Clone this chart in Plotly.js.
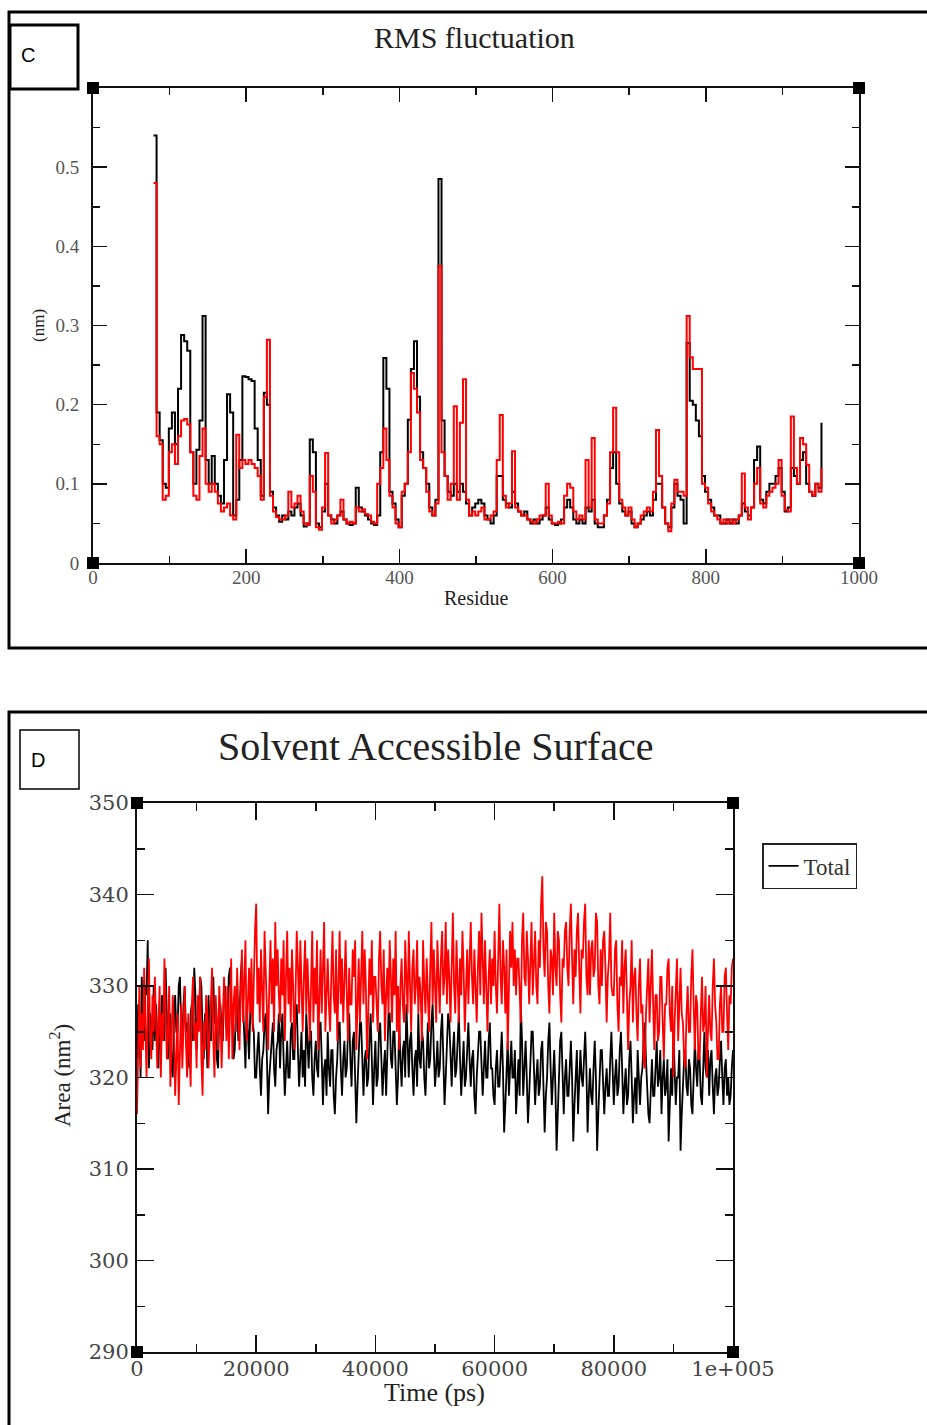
<!DOCTYPE html>
<html>
<head>
<meta charset="utf-8">
<script src="https://cdn.plot.ly/plotly-3.0.1.min.js"></script>
<style>
html,body{margin:0;padding:0;background:#fff;}
#chart{width:927px;height:1425px;}
</style>
</head>
<body>
<div id="chart"></div>
<script>
// ---------- Panel C: RMS fluctuation ----------
const residueStart = 79;
const residueStep = 4;
const rmsfBlack = [
.54,.19,.155,.10,.095,.17,.19,.15,.22,.288,
.28,.268,.14,.10,.143,.18,.312,.13,.10,.135,
.10,.085,.075,.13,.213,.19,.06,.08,.13,.236,
.235,.232,.23,.17,.13,.085,.215,.20,.09,.07,
.06,.052,.06,.055,.065,.06,.07,.075,.06,.046,
.05,.156,.14,.05,.045,.065,.10,.06,.055,.05,
.06,.065,.055,.05,.048,.05,.095,.07,.065,.06,
.055,.05,.048,.06,.14,.259,.22,.09,.075,.055,
.045,.085,.10,.181,.245,.28,.21,.14,.12,.10,
.07,.06,.08,.485,.18,.11,.09,.085,.10,.09,
.10,.09,.075,.06,.07,.075,.08,.075,.06,.055,
.05,.06,.11,.11,.08,.075,.07,.09,.075,.065,
.06,.065,.055,.05,.055,.05,.055,.06,.07,.055,
.05,.048,.05,.055,.07,.08,.07,.055,.05,.055,
.05,.07,.065,.08,.05,.045,.045,.06,.08,.12,
.14,.10,.075,.065,.06,.065,.05,.045,.05,.055,
.06,.065,.06,.08,.10,.10,.07,.05,.045,.07,
.10,.085,.08,.05,.278,.205,.20,.18,.16,.11,
.09,.08,.07,.06,.06,.05,.05,.055,.05,.055,
.05,.06,.075,.065,.06,.07,.13,.147,.08,.075,
.09,.10,.10,.11,.12,.09,.065,.07,.12,.11,
.10,.13,.14,.10,.09,.085,.10,.095,.177
];
const rmsfRed = [
.48,.16,.15,.08,.085,.14,.15,.125,.16,.18,
.182,.175,.14,.085,.08,.135,.17,.10,.09,.10,
.09,.075,.065,.07,.075,.06,.055,.162,.12,.13,
.125,.13,.125,.12,.11,.08,.21,.282,.085,.065,
.058,.055,.055,.06,.09,.07,.075,.085,.065,.05,
.048,.11,.09,.045,.042,.07,.139,.06,.05,.055,
.06,.08,.055,.05,.052,.05,.07,.065,.068,.062,
.06,.052,.05,.10,.12,.17,.13,.085,.07,.05,
.045,.09,.10,.14,.24,.22,.19,.13,.12,.09,
.065,.06,.075,.375,.14,.11,.08,.10,.198,.08,
.177,.232,.08,.06,.065,.06,.065,.07,.055,.055,
.06,.065,.13,.187,.085,.07,.075,.141,.07,.065,
.06,.06,.055,.052,.05,.055,.06,.06,.10,.06,
.05,.05,.052,.05,.085,.10,.095,.065,.055,.06,
.055,.13,.07,.158,.055,.05,.05,.06,.075,.14,
.196,.14,.08,.07,.06,.07,.055,.045,.05,.06,
.065,.07,.065,.09,.168,.11,.07,.05,.04,.075,
.105,.09,.09,.085,.312,.26,.245,.245,.245,.10,
.095,.075,.065,.06,.055,.05,.055,.05,.055,.05,
.055,.06,.113,.07,.055,.07,.10,.12,.075,.07,
.085,.09,.095,.10,.13,.085,.067,.065,.185,.12,
.10,.158,.15,.124,.09,.085,.10,.09,.12
];
const rmsfYTicks = [0, 0.1, 0.2, 0.3, 0.4, 0.5];
const rmsfYText = ['0', '0.1', '0.2', '0.3', '0.4', '0.5'];
const rmsfXTicks = [0, 200, 400, 600, 800, 1000];

// ---------- Panel D: Solvent Accessible Surface ----------
const timeStep = 200; // ps
const sasaRed = [
316,324,330,321,327,323,332,326,320,328, 333,324,322,329,325,331,327,321,326,330,
320,327,324,333,328,322,325,330,319,323, 329,326,318,322,327,317,324,328,321,325,
330,324,320,327,323,319,328,331,324,326, 321,329,325,331,322,318,326,323,329,327,
321,325,328,332,324,320,329,326,323,330, 327,321,325,331,328,324,330,322,327,333,
322,328,330,325,332,327,323,329,334,326, 330,335,324,329,332,327,333,325,331,336,
339,328,332,326,334,330,325,336,331,327, 323,330,335,328,333,325,337,330,334,329,
326,333,329,335,324,331,336,328,332,326, 334,330,323,329,336,332,327,335,329,325,
331,335,327,333,329,324,330,336,326,332, 328,335,323,330,334,327,332,337,325,330,
333,328,325,331,336,329,327,334,324,330, 336,328,333,326,331,335,329,324,332,328,
328,334,331,335,323,329,333,326,331,336, 328,334,330,322,327,333,329,335,326,331,
331,327,325,333,336,330,328,334,324,329, 332,327,335,331,326,333,329,336,325,330,
323,330,333,328,326,335,331,327,336,329, 325,332,334,328,330,335,327,331,329,324,
335,330,327,333,329,325,332,337,328,334, 330,326,335,331,327,333,336,329,331,337,
328,334,331,326,333,338,330,327,335,331, 326,333,329,336,332,325,330,334,328,332,
337,331,328,334,330,326,332,336,329,338, 333,328,335,329,325,331,334,328,333,330,
336,330,327,333,339,331,328,335,332,327, 334,323,330,336,332,337,330,334,329,333,
333,328,326,335,338,331,330,336,333,328, 332,337,329,334,336,330,328,335,332,339,
342,334,331,337,336,330,327,334,333,329, 338,332,330,336,335,329,326,333,332,336,
337,332,330,336,339,333,328,334,331,336, 338,332,327,334,333,337,339,331,329,335,
329,334,335,331,332,338,337,330,328,334, 330,335,336,332,326,331,333,338,330,329,
329,334,335,328,325,331,330,335,327,332, 334,329,323,328,330,335,326,331,332,327,
324,330,333,327,328,322,321,327,330,333, 326,331,334,328,323,329,329,324,325,331,
331,326,322,328,328,332,333,327,325,330, 320,326,329,333,324,328,332,327,326,322,
321,327,330,325,325,331,334,328,323,329, 328,322,322,327,331,325,326,330,320,325,
329,325,324,330,333,328,326,322,322,328, 330,325,325,331,332,327,323,329,328,332,
333
];
const sasaBlack = [
322,328,326,320,331,325,324,330,329,335, 321,327,326,323,330,324,328,325,321,327,
323,329,328,324,332,327,322,326,327,321, 320,326,329,325,325,330,331,326,324,328,
330,325,326,322,321,327,328,324,332,329, 323,326,327,331,330,325,322,327,326,321,
329,325,324,330,331,326,326,322,321,327, 328,325,324,329,330,326,325,331,332,328,
327,322,323,328,329,324,326,331,333,328, 324,321,328,325,322,327,330,326,325,320,
320,323,325,321,318,322,323,326,327,322, 316,320,322,325,326,321,319,323,324,327,
321,325,327,322,318,321,324,320,320,325, 326,322,322,327,328,323,319,322,325,320,
323,319,327,324,321,325,325,320,318,322, 324,321,320,326,326,322,317,321,322,318,
325,321,319,323,323,318,316,320,322,326, 326,321,318,322,324,320,321,325,327,322,
319,324,325,320,315,319,322,326,326,321, 318,322,323,319,320,324,327,322,317,321,
324,319,320,325,326,322,318,321,323,318, 323,327,327,322,321,325,325,320,317,320,
326,322,319,323,324,320,328,324,320,324, 325,321,318,322,323,319,327,322,321,325,
324,320,318,322,326,321,322,326,328,323, 319,321,324,320,321,325,327,322,317,320,
323,327,326,321,319,323,325,320,321,324, 327,322,318,321,324,319,320,323,326,322,
319,322,323,318,316,320,322,325,325,321, 318,321,324,320,320,324,326,321,321,318,
317,321,323,319,319,322,325,321,314,317, 321,324,318,321,324,320,320,323,316,319,
322,318,328,324,318,321,324,320,315,318, 321,325,325,321,317,320,322,318,319,323,
324,319,314,318,320,324,326,321,317,320, 323,319,312,316,320,324,325,320,316,320,
322,318,318,321,324,320,313,317,320,323, 316,319,323,320,319,322,325,321,314,318,
321,318,317,321,324,320,312,316,319,323, 323,319,316,319,321,318,318,322,325,321,
317,320,322,318,319,323,325,321,316,319, 321,317,318,322,324,320,315,318,320,316,
323,320,317,320,321,324,326,322,319,316, 315,319,322,318,318,321,324,319,320,323,
316,320,322,318,319,322,313,317,321,318, 325,321,317,320,320,323,312,316,319,322,
323,319,318,322,321,317,316,320,324,321, 319,323,322,318,317,321,325,321,320,323,
318,322,323,319,316,320,321,318,319,322, 324,320,317,321,322,318,320,317,318,321,
323
];
const sasaYTicks = [290, 300, 310, 320, 330, 340, 350];
const sasaXTicks = [0, 20000, 40000, 60000, 80000, 100000];
const sasaXText = ['0', '20000', '40000', '60000', '80000', '1e+005'];

const residues = rmsfBlack.map((_, i) => residueStart + i * residueStep);
const timesRed = sasaRed.map((_, i) => i * timeStep);
const timesBlack = sasaBlack.map((_, i) => i * timeStep);

const W = 927, H = 1425;
const px = v => v / W;
const py = v => 1 - v / H;

const traces = [
  {x: residues, y: rmsfBlack, xaxis: 'x', yaxis: 'y', type: 'scatter', mode: 'lines',
   line: {color: '#000', width: 2, shape: 'hv'}, showlegend: false, name: 'black'},
  {x: residues, y: rmsfRed, xaxis: 'x', yaxis: 'y', type: 'scatter', mode: 'lines',
   line: {color: '#ff0000', width: 2, shape: 'hv'}, showlegend: false, name: 'red'},
  {x: timesBlack, y: sasaBlack, xaxis: 'x2', yaxis: 'y2', type: 'scatter', mode: 'lines',
   line: {color: '#000', width: 1.8}, showlegend: true, name: 'Total'},
  {x: timesRed, y: sasaRed, xaxis: 'x2', yaxis: 'y2', type: 'scatter', mode: 'lines',
   line: {color: '#ff0000', width: 1.8}, showlegend: false, name: 'red'}
];

const serif = 'Liberation Serif, Times New Roman, serif';
const axisCommon = {
  showline: true, linecolor: '#111', linewidth: 2, mirror: 'ticks',
  ticks: 'inside', tickcolor: '#111', tickwidth: 1.5,
  showgrid: false, zeroline: false, fixedrange: true
};

const cornerShapes = [];
[['x', 'y'], ['x2', 'y2']].forEach(([xa, ya]) => {
  [[0, 0], [0, 1], [1, 0], [1, 1]].forEach(([cx, cy]) => {
    cornerShapes.push({
      type: 'rect', xref: xa + ' domain', yref: ya + ' domain',
      xsizemode: 'pixel', ysizemode: 'pixel', xanchor: cx, yanchor: cy,
      x0: -6, x1: 6, y0: -6, y1: 6, fillcolor: '#000', line: {width: 0}
    });
  });
});

function note(text, x, y, size, opts) {
  return Object.assign({
    text: text, xref: 'paper', yref: 'paper', x: px(x), y: py(y),
    xanchor: 'center', yanchor: 'middle', showarrow: false,
    font: {family: serif, size: size, color: '#222'}
  }, opts || {});
}

const layout = {
  width: W, height: H,
  margin: {l: 0, r: 0, t: 0, b: 0},
  paper_bgcolor: '#fff', plot_bgcolor: '#fff',
  xaxis: Object.assign({}, axisCommon, {
    domain: [px(93), px(859)], anchor: 'y', range: [0, 1000],
    tickvals: rmsfXTicks, ticklen: 14,
    minor: {dtick: 100, tick0: 0, ticks: 'inside', ticklen: 7, tickcolor: '#111', tickwidth: 1.5},
    tickfont: {family: serif, size: 19, color: '#555'}, ticklabelstandoff: -4
  }),
  yaxis: Object.assign({}, axisCommon, {
    domain: [py(563), py(88)], anchor: 'x', range: [0, 0.6],
    tickvals: rmsfYTicks, ticktext: rmsfYText, ticklen: 14,
    minor: {dtick: 0.05, tick0: 0, ticks: 'inside', ticklen: 7, tickcolor: '#111', tickwidth: 1.5},
    tickfont: {family: serif, size: 19, color: '#555'}, ticklabelstandoff: 8
  }),
  xaxis2: Object.assign({}, axisCommon, {
    domain: [px(137), px(733)], anchor: 'y2', range: [0, 100000],
    tickvals: sasaXTicks, ticktext: sasaXText, ticklen: 17,
    minor: {dtick: 10000, tick0: 0, ticks: 'inside', ticklen: 8, tickcolor: '#111', tickwidth: 1.5},
    tickfont: {family: 'DejaVu Serif, serif', size: 21, color: '#444'}, ticklabelstandoff: -3
  }),
  yaxis2: Object.assign({}, axisCommon, {
    domain: [py(1352), py(803)], anchor: 'x2', range: [290, 350],
    tickvals: sasaYTicks, ticklen: 17,
    minor: {dtick: 5, tick0: 290, ticks: 'inside', ticklen: 8, tickcolor: '#111', tickwidth: 1.5},
    tickfont: {family: 'DejaVu Serif, serif', size: 21, color: '#444'}, ticklabelstandoff: 2
  }),
  showlegend: true,
  legend: {
    x: px(762), y: py(843), xanchor: 'left', yanchor: 'top',
    bordercolor: '#222', borderwidth: 1.5, bgcolor: '#fff',
    font: {family: serif, size: 23, color: '#333'}, itemwidth: 30
  },
  shapes: [
    {type: 'rect', xref: 'paper', yref: 'paper', x0: px(9), x1: 1.05, y0: py(648), y1: py(12),
     line: {color: '#000', width: 3}},
    {type: 'rect', xref: 'paper', yref: 'paper', x0: px(9), x1: 1.05, y0: -0.05, y1: py(712),
     line: {color: '#000', width: 3}},
    {type: 'rect', xref: 'paper', yref: 'paper', x0: px(10), x1: px(78), y0: py(89), y1: py(25),
     line: {color: '#000', width: 3}},
    {type: 'rect', xref: 'paper', yref: 'paper', x0: px(20), x1: px(79), y0: py(789), y1: py(730),
     line: {color: '#000', width: 1.5}}
  ].concat(cornerShapes),
  annotations: [
    note('C', 28, 55, 20, {font: {family: 'Liberation Sans, Arial, sans-serif', size: 20, color: '#000'}}),
    note('D', 38, 760, 20, {font: {family: 'Liberation Sans, Arial, sans-serif', size: 20, color: '#000'}}),
    note('RMS fluctuation', 475, 38, 30),
    note('Residue', 476, 598, 20),
    note('(nm)', 38, 326, 17, {textangle: -90}),
    note('Solvent Accessible Surface', 435, 746, 40),
    note('Time (ps)', 434, 1392, 26),
    note('Area (nm<sup>2</sup>)', 60, 1075, 23, {textangle: -90})
  ]
};

Plotly.newPlot('chart', traces, layout, {staticPlot: true, displayModeBar: false});
</script>
</body>
</html>
